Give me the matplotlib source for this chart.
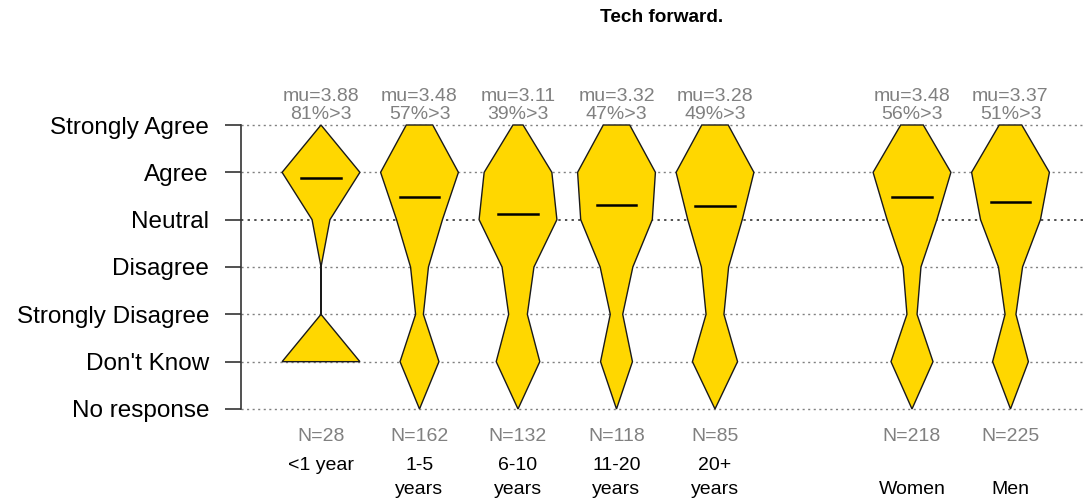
import numpy as np
import matplotlib.pyplot as plt

plt.rcParams['font.family'] = ['Liberation Sans', 'DejaVu Sans']

# response levels, top to bottom
levels = [5, 4, 3, 2, 1, 0, -1]
level_labels = ['Strongly Agree', 'Agree', 'Neutral', 'Disagree',
                'Strongly Disagree', "Don't Know", 'No response']

# group label lines (first line, second line)
groups_top = ['<1 year', '1-5', '6-10', '11-20', '20+', '', '']
groups_bottom = ['', 'years', 'years', 'years', 'years', 'Women', 'Men']
group_pos = [1, 2, 3, 4, 5, 7, 8]
n_resp = [28, 162, 132, 118, 85, 218, 225]
mu = [3.88, 3.48, 3.11, 3.32, 3.28, 3.48, 3.37]
pct_agree = [81, 57, 39, 47, 49, 56, 51]

# relative violin width at each level (5 .. -1); None = shape stops there
widths = [
    [0.0, 1.0, 0.23, 0.0, 0.0, 1.0, None],
    [0.34, 1.0, 0.59, 0.23, 0.10, 0.50, 0.0],
    [0.13, 0.87, 1.0, 0.41, 0.24, 0.56, 0.0],
    [0.34, 1.0, 0.92, 0.42, 0.16, 0.41, 0.0],
    [0.34, 1.0, 0.70, 0.35, 0.23, 0.58, 0.0],
    [0.29, 1.0, 0.64, 0.23, 0.13, 0.54, 0.0],
    [0.29, 1.0, 0.77, 0.31, 0.14, 0.46, 0.0],
]

W, H = 1083, 504
fig = plt.figure(figsize=(W / 100, H / 100), dpi=100)
ax = fig.add_axes([241 / W, (H - 409) / H, (W - 241) / W, 284 / H])

x0 = (241 - 222.5) / 98.5
x1 = (W - 222.5) / 98.5
ax.set_xlim(x0, x1)
ax.set_ylim(-1, 5)

# dotted guide lines
for lv in levels:
    if lv == 3:
        ax.axhline(lv, color='#505050', lw=1.4, ls=(0, (1.2, 2.2)), zorder=0,
                   clip_on=False)
    else:
        ax.axhline(lv, color='#808080', lw=1.0, ls=(0, (1.5, 2.5)), zorder=0,
                   clip_on=False)

half = 0.395
for i, p in enumerate(group_pos):
    ys = [lv for lv, w in zip(levels, widths[i]) if w is not None]
    ws = np.array([w for w in widths[i] if w is not None]) * half
    xs = np.concatenate([p - ws, (p + ws)[::-1]])
    yy = np.concatenate([ys, ys[::-1]])
    ax.fill(xs, yy, facecolor='#FFD700', edgecolor='#1a1a1a', lw=1.0, zorder=2,
            clip_on=False)
    ax.plot([p - 0.2, p + 0.2], [mu[i], mu[i]], color='black', lw=1.8, zorder=3)
    ax.text(p, 5.6, f'mu={mu[i]:.2f}', ha='center', va='center',
            color='#808080', fontsize=14, clip_on=False)
    ax.text(p, 5.22, f'{pct_agree[i]}%>3', ha='center', va='center',
            color='#808080', fontsize=14, clip_on=False)
    ax.text(p, -1.58, f'N={n_resp[i]}', ha='center', va='center',
            color='#808080', fontsize=14, clip_on=False)
    ax.text(p, -2.2, groups_top[i], ha='center', va='center', color='black',
            fontsize=14, clip_on=False)
    ax.text(p, -2.71, groups_bottom[i], ha='center', va='center', color='black',
            fontsize=14, clip_on=False)

ax.set_yticks(levels)
ax.set_yticklabels(level_labels, fontsize=17.5)
ax.tick_params(axis='y', length=11.5, width=1.2, pad=11.5, color='#333333')
ax.set_xticks([])
for s in ['top', 'right', 'bottom']:
    ax.spines[s].set_visible(False)
ax.spines['left'].set_bounds(-1, 5)
ax.spines['left'].set_color('#333333')
ax.spines['left'].set_linewidth(1.2)

fig.text(662 / W, 1 - 18 / H, 'Tech forward.', ha='center', va='center',
         fontsize=13.7, fontweight='bold')

fig.savefig('out.png', dpi=100)
